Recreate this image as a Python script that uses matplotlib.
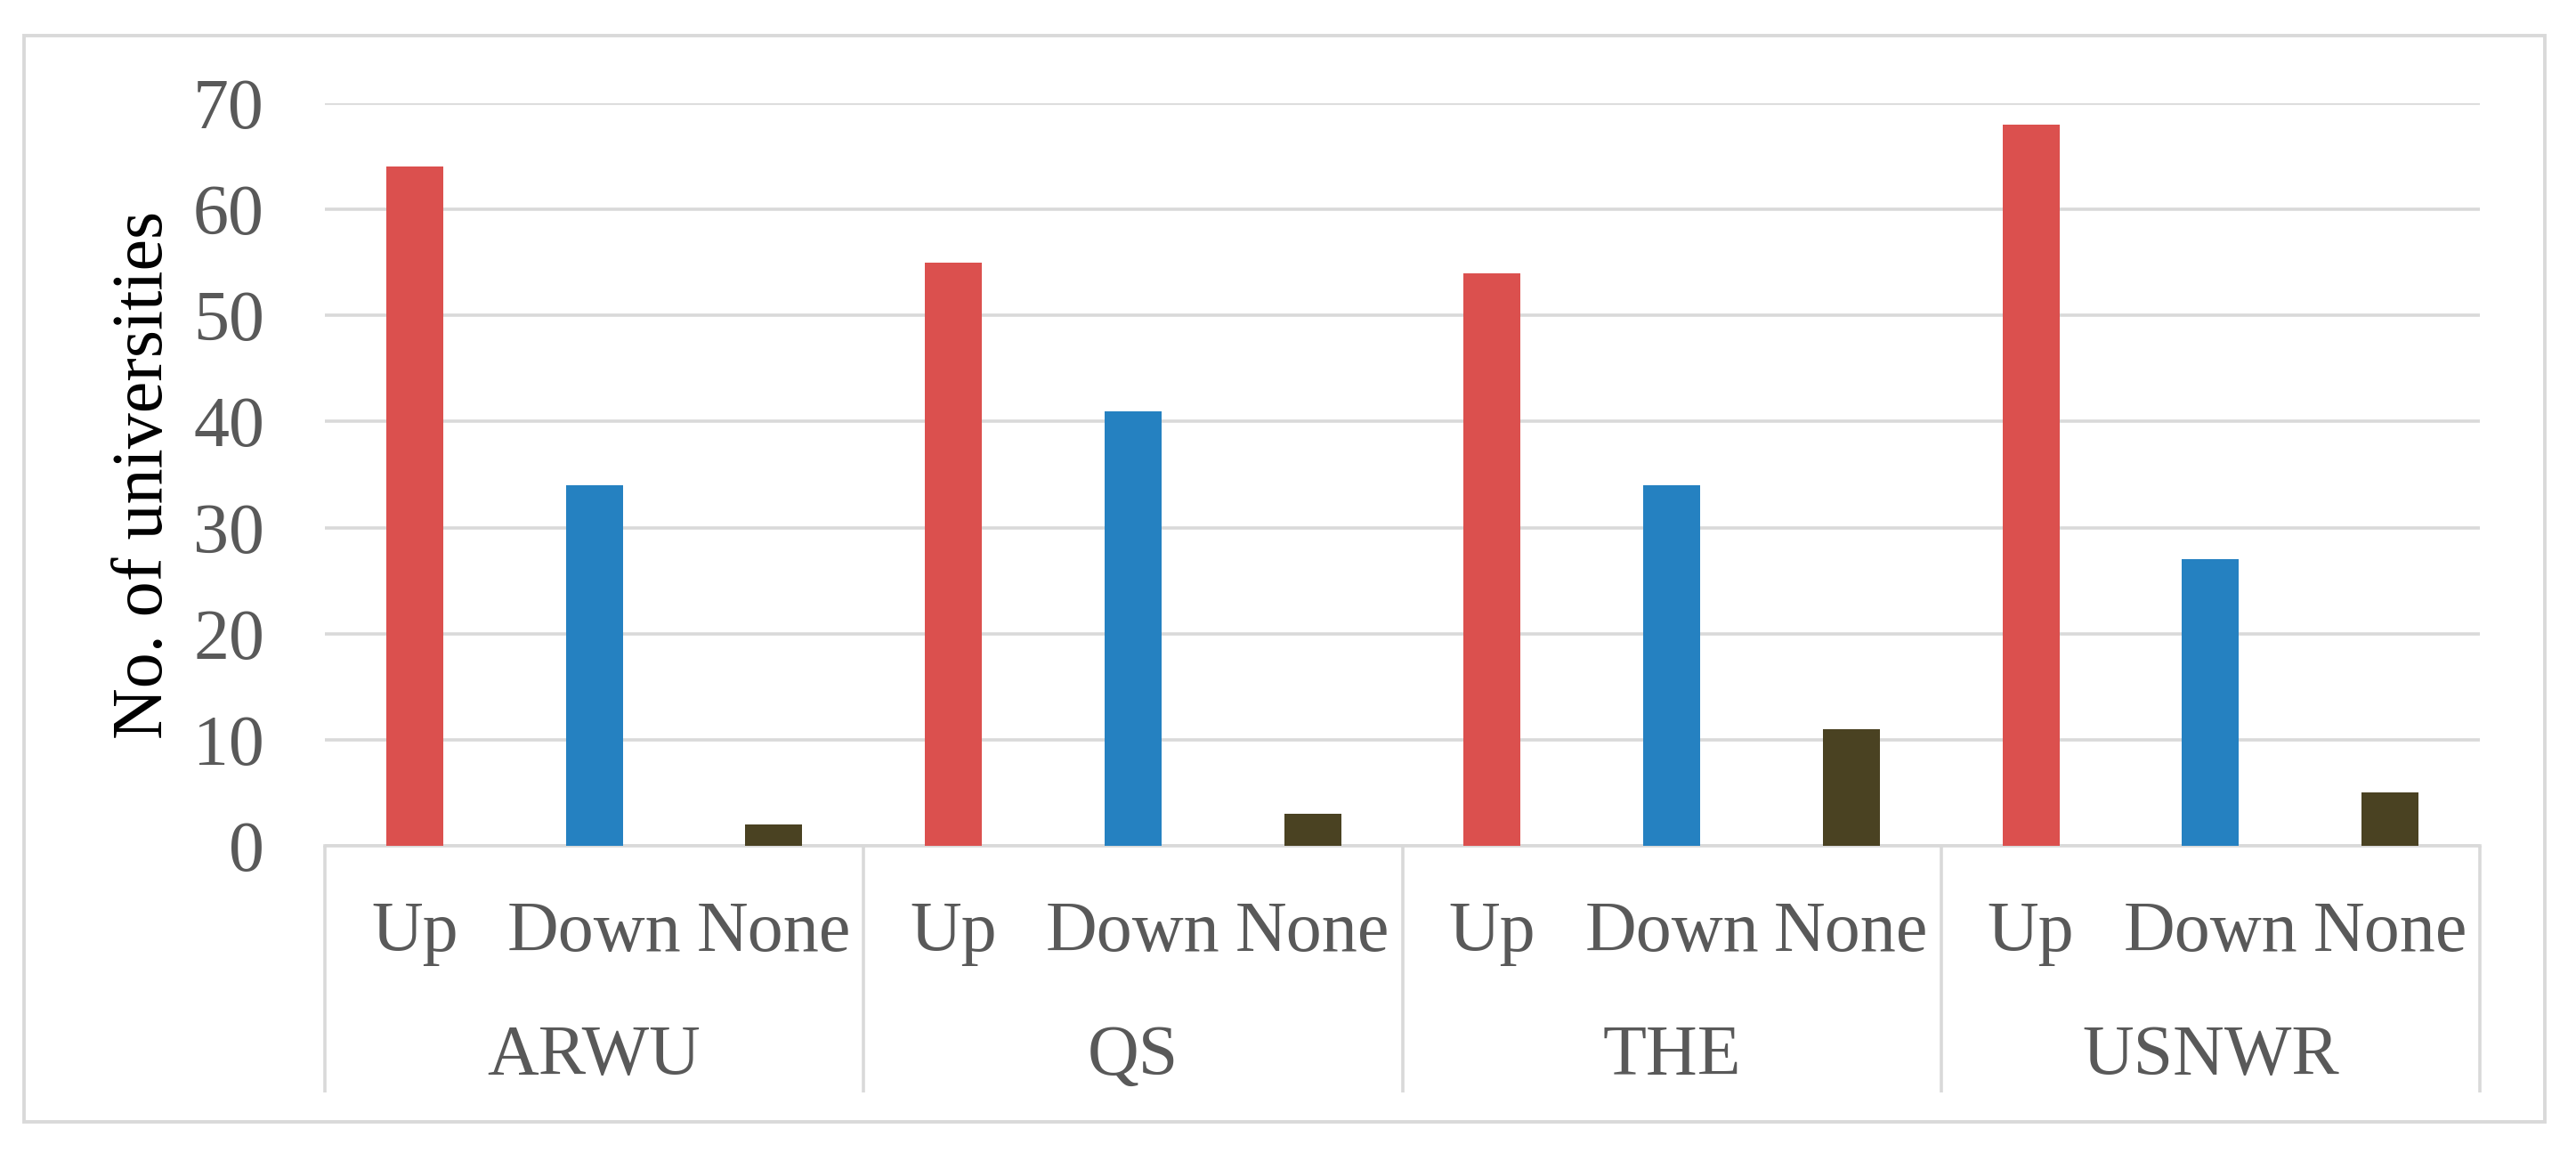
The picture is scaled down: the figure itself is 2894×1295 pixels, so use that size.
import matplotlib
matplotlib.use("Agg")
import matplotlib.pyplot as plt
import matplotlib.transforms as mtransforms
from matplotlib.patches import Rectangle

# ---- data ----
groups = ["ARWU", "QS", "THE", "USNWR"]
subcats = ["Up", "Down", "None"]
up_vals = [64, 55, 54, 68]
down_vals = [34, 41, 34, 27]
none_vals = [2, 3, 11, 5]
yticks = [0, 10, 20, 30, 40, 50, 60, 70]

colors = {"Up": "#DB504E", "Down": "#2581C1", "None": "#4A4222"}
series = {"Up": up_vals, "Down": down_vals, "None": none_vals}

W, H = 2894, 1295
fig = plt.figure(figsize=(W / 100, H / 100), dpi=100)
fig.patch.set_facecolor("white")

FONT = ["Liberation Serif", "DejaVu Serif"]
FS = 57.6
GRAY = "#595959"
LINEC = "#D9D9D9"

# plot area in pixels
x0, x1 = 365, 2786
y_top, y_base = 116, 950
ax = fig.add_axes([x0 / W, 1 - y_base / H, (x1 - x0) / W, (y_base - y_top) / H])

n_sub = len(subcats)
for gi, g in enumerate(groups):
    for si, s in enumerate(subcats):
        pos = gi * n_sub + si
        ax.bar(pos, series[s][gi], width=0.317, color=colors[s], zorder=3)

ax.set_xlim(-0.5, len(groups) * n_sub - 0.5)
ax.set_ylim(0, 70)
ax.set_yticks(yticks)
ax.set_yticklabels([str(t) for t in yticks], fontfamily=FONT, fontsize=FS, color=GRAY)
ax.tick_params(axis="y", length=0, pad=49)
ax.set_xticks([])
ax.yaxis.grid(True, color=LINEC, linewidth=2.6, zorder=0)
ax.set_axisbelow(True)
for sp in ["top", "right", "left"]:
    ax.spines[sp].set_visible(False)
ax.spines["bottom"].set_color(LINEC)
ax.spines["bottom"].set_linewidth(2.6)

# y label
fig.text(182 / W, 1 - 533 / H, "No. of universities", rotation=90,
         rotation_mode="anchor", ha="center", va="baseline",
         fontfamily=FONT, fontsize=FS, color="black")

# category labels
trans = mtransforms.blended_transform_factory(ax.transData, ax.transAxes)
ax_h = y_base - y_top
sub_y = -(1068 - y_base) / ax_h
grp_y = -(1207 - y_base) / ax_h
box_y = -(1227 - y_base) / ax_h
for gi, g in enumerate(groups):
    for si, s in enumerate(subcats):
        pos = gi * n_sub + si
        ax.text(pos, sub_y, s, transform=trans, ha="center", va="baseline",
                fontfamily=FONT, fontsize=FS, color=GRAY, clip_on=False)
    ax.text(gi * n_sub + 1, grp_y, g, transform=trans, ha="center", va="baseline",
            fontfamily=FONT, fontsize=FS, color=GRAY, clip_on=False)

# separators
for k in range(len(groups) + 1):
    xs = k * n_sub - 0.5
    ax.plot([xs, xs], [0, box_y], transform=trans, color=LINEC, linewidth=2.6,
            clip_on=False, solid_capstyle="butt")

# outer border
fig.patches.append(Rectangle((27 / W, 1 - 1260 / H), (2859 - 27) / W, (1260 - 40) / H,
                             transform=fig.transFigure, fill=False,
                             edgecolor=LINEC, linewidth=2.8))

fig.savefig("out.png", dpi=100, facecolor="white")
